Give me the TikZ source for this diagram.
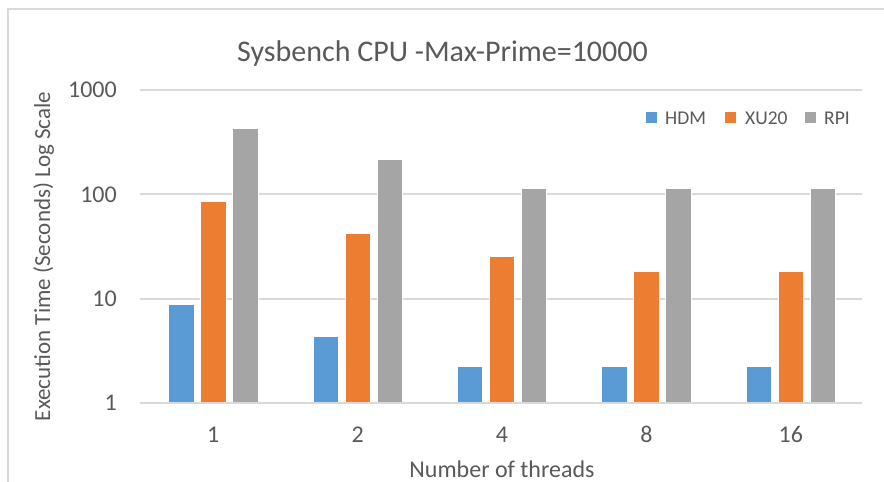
\documentclass[tikz,border=0pt]{standalone}
\usepackage{fontspec}
\setmainfont{Carlito}
\usepackage{xcolor}
\definecolor{hdm}{HTML}{5B9BD5}
\definecolor{xutwenty}{HTML}{ED7D31}
\definecolor{rpi}{HTML}{A5A5A5}
\definecolor{gridc}{HTML}{D9D9D9}
\definecolor{txt}{HTML}{595959}
\usepackage{tikz}

\begin{document}
\begin{tikzpicture}[x=1pt, y=-1pt,
    bar/.style={draw=white, line width=0.6pt},
    lbl/.style={text=txt, inner sep=0pt, font=\fontsize{24}{28}\selectfont}]
  \useasboundingbox (0,0) rectangle (884,482);
  % frame
  \draw[gridc, line width=2pt] (7.5,482) -- (7.5,9) -- (884,9);
  % title
  \node[lbl, anchor=base, font=\fontsize{30}{36}\selectfont] (title) at (442.5,61.7)
    {Sysbench CPU -Max-Prime=10000};
  % horizontal grid and y labels
  \foreach \y/\lb in {90/1000, 194.3/100, 298.7/10}{
    \draw[gridc, line width=2pt] (140,\y) -- (862,\y);
    \node[lbl, anchor=east] (ytick\lb) at (117,\y) {\lb};
  }
  \node[lbl, anchor=east] (ytick1) at (117,402.8) {1};
  % bars (log scale: 104.4pt per decade)
  \foreach \g/\a/\b/\c [count=\i] in {1/8.7/85/430, 2/4.3/42/216, 4/2.26/25.5/114,
                                      8/2.26/18.1/114, 16/2.26/18.1/114}{
    \pgfmathsetmacro\cx{141+144.4*(\i-0.5)}
    \pgfmathsetmacro\ya{402.8-45.34*ln(\a)}
    \pgfmathsetmacro\yb{402.8-45.34*ln(\b)}
    \pgfmathsetmacro\yc{402.8-45.34*ln(\c)}
    \path[bar, fill=hdm]      (\cx-44.75,402.8) rectangle (\cx-19.25,\ya);
    \path[bar, fill=xutwenty] (\cx-12.75,402.8) rectangle (\cx+12.75,\yb);
    \path[bar, fill=rpi]      (\cx+19.25,402.8) rectangle (\cx+44.75,\yc);
    \node[lbl] (xtick\g) at (\cx,434.5) {\g};
  }
  % x axis
  \draw[gridc, line width=2.5pt] (140,402.8) -- (862,402.8);
  % axis titles
  \node[lbl, anchor=base, rotate=90, font=\fontsize{23}{28}\selectfont] (ytitle) at (50,256.5)
    {Execution Time (Seconds) Log Scale};
  \node[lbl, anchor=base] (xtitle) at (502,477) {Number of threads};
  % legend
  \foreach \sx/\tx/\col/\nm in {646/665/hdm/HDM, 725/745/xutwenty/XU20, 805/824/rpi/RPI}{
    \node[fill=\col, inner sep=0pt, minimum width=11pt, minimum height=10.5pt]
      (key\nm) at (\sx+5.5,117.5) {};
    \node[lbl, anchor=west, font=\fontsize{19.5}{24}\selectfont] (leg\nm) at (\tx,118) {\nm};
  }
\end{tikzpicture}
\end{document}
